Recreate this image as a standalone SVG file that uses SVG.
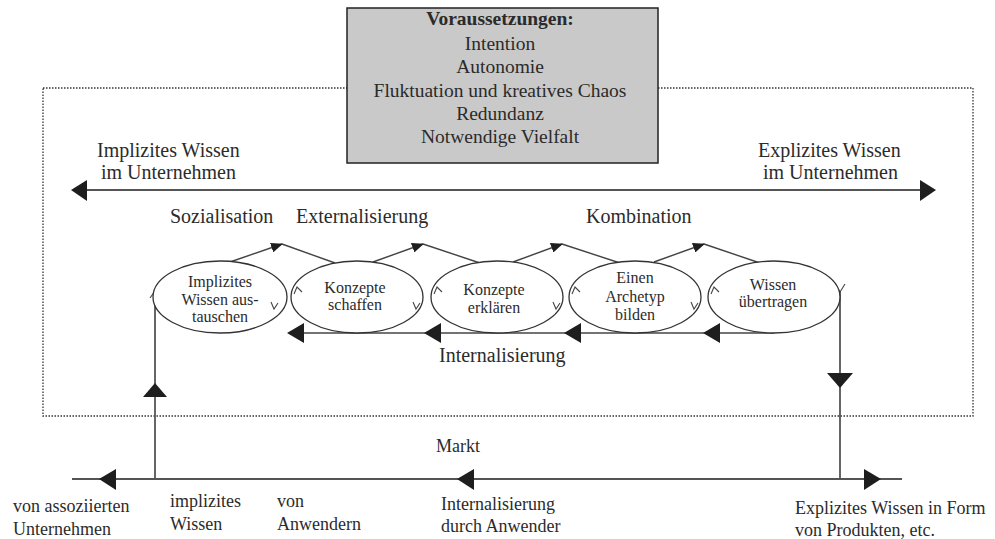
<svg xmlns="http://www.w3.org/2000/svg" width="995" height="539" viewBox="0 0 995 539">
  <style>
    text { font-family: "Liberation Serif", "Times New Roman", serif; fill: #2b2b2b; }
    .lbl { font-size: 20px; }
    .sm { font-size: 18px; }
    .box { font-size: 19.5px; }
    .node { font-size: 16px; }
    .ell { fill: #ffffff; stroke: #333; stroke-width: 1.3; }
    .ln { fill: none; stroke: #555; stroke-width: 1.8; }
    .thin { fill: none; stroke: #444; stroke-width: 1.4; }
    .tick { fill: none; stroke: #444; stroke-width: 1.1; }
    .head { fill: #1e1e1e; stroke: none; }
  </style>
  <defs>
    <marker id="peak" viewBox="0 0 12 10" refX="11" refY="5" markerWidth="12" markerHeight="10" markerUnits="userSpaceOnUse" orient="auto">
      <path d="M0,0 L12,5 L0,10 Z" fill="#1e1e1e"/>
    </marker>
  </defs>

  <rect width="995" height="539" fill="#ffffff"/>

  <!-- company boundary -->
  <rect id="unternehmen" x="43" y="88" width="930" height="328" fill="none" stroke="#333" stroke-width="1.3" stroke-dasharray="1.5 1.5"/>

  <!-- preconditions -->
  <g id="voraussetzungen">
    <rect x="347" y="8" width="311" height="155" fill="#c9c9c9" stroke="#222" stroke-width="1.5"/>
    <text class="box" x="500" y="25" text-anchor="middle" font-weight="bold">Voraussetzungen:</text>
    <text class="box" x="500" y="50" text-anchor="middle">Intention</text>
    <text class="box" x="500" y="73" text-anchor="middle">Autonomie</text>
    <text class="box" x="500" y="97" text-anchor="middle">Fluktuation und kreatives Chaos</text>
    <text class="box" x="500" y="120" text-anchor="middle">Redundanz</text>
    <text class="box" x="500" y="143" text-anchor="middle">Notwendige Vielfalt</text>
  </g>

  <!-- phase labels -->
  <g id="labels">
    <text class="lbl" x="97" y="157">Implizites Wissen</text>
    <text class="lbl" x="101" y="179">im Unternehmen</text>
    <text class="lbl" x="758" y="157">Explizites Wissen</text>
    <text class="lbl" x="763" y="179">im Unternehmen</text>
    <text class="lbl" x="170" y="223">Sozialisation</text>
    <text class="lbl" x="296" y="223">Externalisierung</text>
    <text class="lbl" x="586" y="223">Kombination</text>
    <text class="lbl" x="439" y="362">Internalisierung</text>
    <text class="sm" x="436" y="452">Markt</text>
    <text class="sm" x="13" y="512">von assoziierten</text>
    <text class="sm" x="13" y="535">Unternehmen</text>
    <text class="sm" x="170" y="507">implizites</text>
    <text class="sm" x="170" y="530">Wissen</text>
    <text class="sm" x="277" y="507">von</text>
    <text class="sm" x="277" y="530">Anwendern</text>
    <text class="sm" x="441" y="510">Internalisierung</text>
    <text class="sm" x="441" y="532">durch Anwender</text>
    <text class="sm" x="795" y="514">Explizites Wissen in Form</text>
    <text class="sm" x="795" y="536">von Produkten, etc.</text>
  </g>

  <!-- connectors -->
  <g id="connectors">
    <!-- implicit / explicit axis -->
    <line class="ln" x1="85" y1="190" x2="922" y2="190" stroke="#777"/>
    <path class="head" d="M71,190 L87,180 L87,201 Z"/>
    <path class="head" d="M936,190 L920,180 L920,201 Z"/>

    <!-- spiral: rising arrows between processes -->
    <line class="thin" x1="230" y1="262" x2="282" y2="244" marker-end="url(#peak)"/>
    <line class="thin" x1="282" y1="244" x2="335" y2="263"/>
    <line class="thin" x1="373" y1="262" x2="423" y2="244" marker-end="url(#peak)"/>
    <line class="thin" x1="423" y1="244" x2="480" y2="263"/>
    <line class="thin" x1="513" y1="262" x2="562" y2="244" marker-end="url(#peak)"/>
    <line class="thin" x1="562" y1="244" x2="620" y2="263"/>
    <line class="thin" x1="654" y1="262" x2="704" y2="244" marker-end="url(#peak)"/>
    <line class="thin" x1="704" y1="244" x2="760" y2="263"/>

    <!-- internalisation return line -->
    <line class="thin" x1="290" y1="333" x2="774" y2="333"/>
    <path class="head" d="M287,333 L304,323 L304,343 Z"/>
    <path class="head" d="M424,333 L441,323 L441,343 Z"/>
    <path class="head" d="M564,333 L581,323 L581,343 Z"/>
    <path class="head" d="M703,333 L720,323 L720,343 Z"/>

    <!-- market line -->
    <line class="ln" x1="72" y1="479" x2="902" y2="479" stroke="#666"/>
    <path class="head" d="M99,479 L116,469 L116,490 Z"/>
    <path class="head" d="M457,479 L474,469 L474,490 Z"/>
    <path class="head" d="M881,479 L864,469 L864,490 Z"/>

    <!-- implicit knowledge entering -->
    <line class="ln" x1="155" y1="479" x2="155" y2="292" stroke="#555"/>
    <path class="head" d="M155,383 L143,397 L167,397 Z"/>
    <polyline class="tick" points="150,298 155,291 160,298"/>

    <!-- explicit knowledge leaving -->
    <line class="ln" x1="840" y1="291" x2="840" y2="479" stroke="#555"/>
    <path class="head" d="M840,388 L827,373 L853,373 Z"/>
    <polyline class="tick" points="835,284 840,292 845,284"/>
  </g>

  <!-- processes -->
  <g id="n1">
    <ellipse class="ell" cx="220" cy="297" rx="67" ry="36"/>
    <polyline class="tick" points="271,302 274,309 278,303"/>
    <text class="node" x="220" y="287" text-anchor="middle">Implizites</text>
    <text class="node" x="220" y="305" text-anchor="middle">Wissen  aus-</text>
    <text class="node" x="220" y="322" text-anchor="middle">tauschen</text>
  </g>
  <g id="n2">
    <ellipse class="ell" cx="357" cy="297" rx="66" ry="36"/>
    <polyline class="tick" points="294,294 297,287 302,292"/>
    <polyline class="tick" points="413,302 416,309 420,303"/>
    <text class="node" x="355" y="293" text-anchor="middle">Konzepte</text>
    <text class="node" x="355" y="310" text-anchor="middle">schaffen</text>
  </g>
  <g id="n3">
    <ellipse class="ell" cx="497" cy="297" rx="66" ry="36"/>
    <polyline class="tick" points="434,294 437,287 442,292"/>
    <polyline class="tick" points="553,302 556,309 560,303"/>
    <text class="node" x="494" y="295" text-anchor="middle">Konzepte</text>
    <text class="node" x="494" y="313" text-anchor="middle">erklären</text>
  </g>
  <g id="n4">
    <ellipse class="ell" cx="635" cy="297" rx="66" ry="36"/>
    <polyline class="tick" points="572,294 575,287 580,292"/>
    <polyline class="tick" points="691,302 694,309 698,303"/>
    <text class="node" x="635" y="283" text-anchor="middle">Einen</text>
    <text class="node" x="635" y="302" text-anchor="middle">Archetyp</text>
    <text class="node" x="635" y="320" text-anchor="middle">bilden</text>
  </g>
  <g id="n5">
    <ellipse class="ell" cx="774" cy="297" rx="66" ry="36"/>
    <polyline class="tick" points="711,294 714,287 719,292"/>
    <text class="node" x="773" y="290" text-anchor="middle">Wissen</text>
    <text class="node" x="773" y="307" text-anchor="middle">übertragen</text>
  </g>
</svg>
